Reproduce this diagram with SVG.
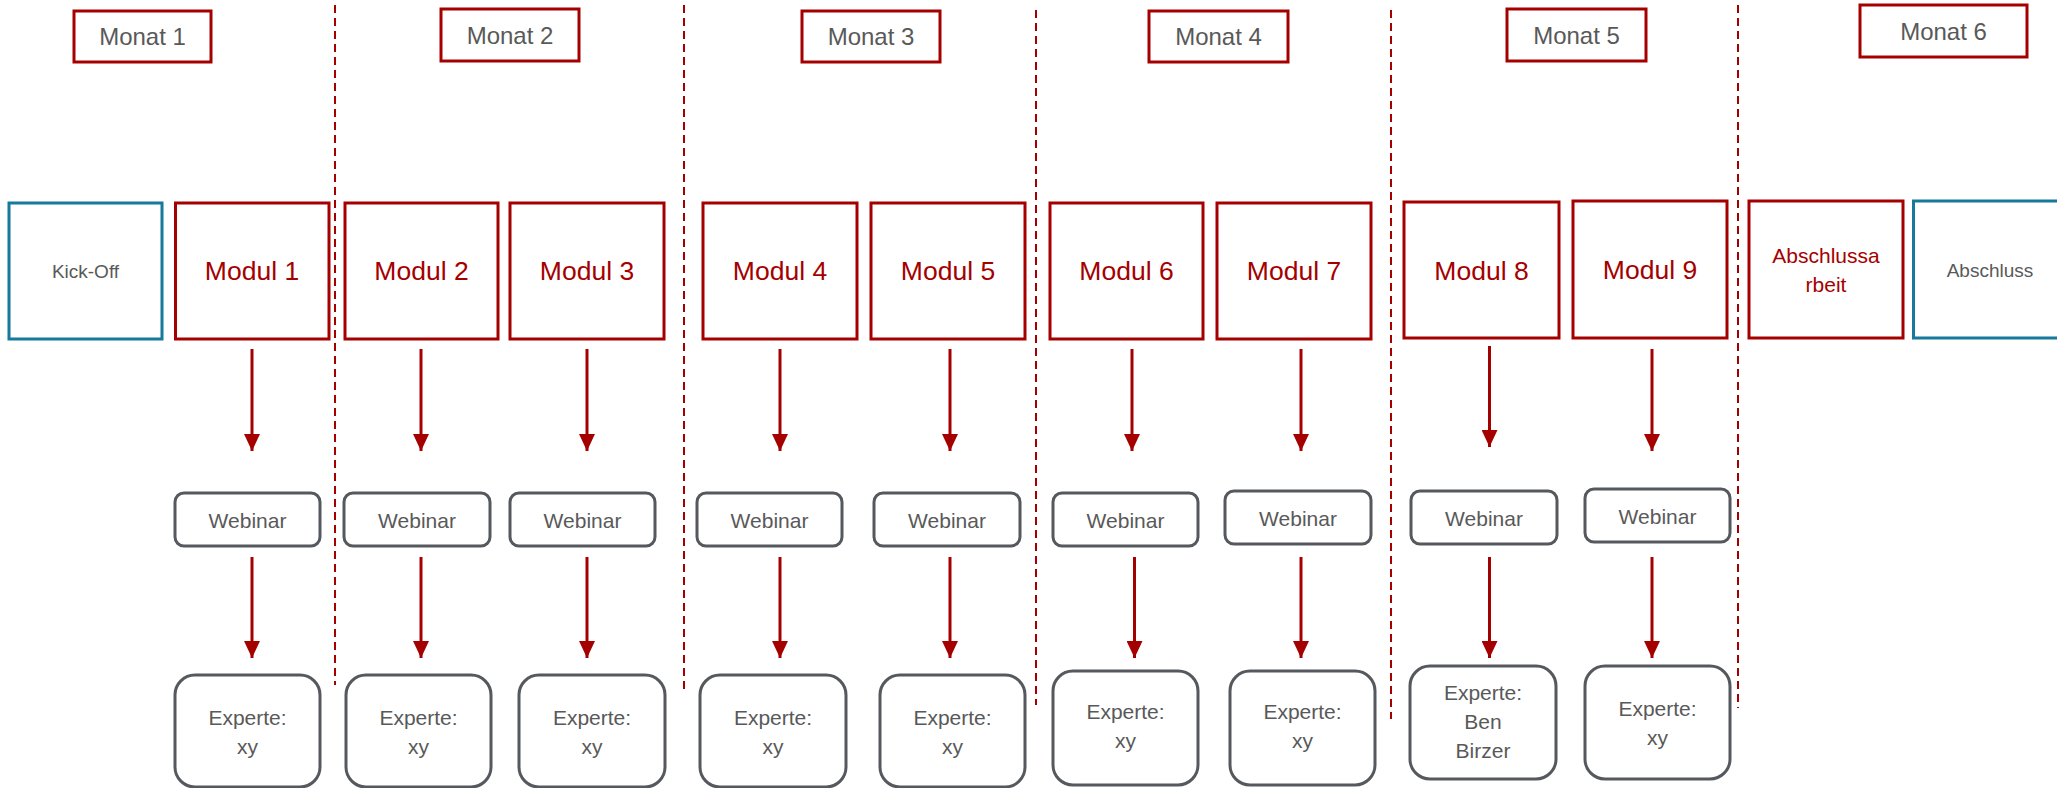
<svg xmlns="http://www.w3.org/2000/svg" width="2057" height="788" viewBox="0 0 2057 788">
<defs>
<style>
.bg{fill:#ffffff}
.month rect{fill:#fff;stroke:#a50000;stroke-width:3}
.month text{font-family:"Liberation Sans",Arial,sans-serif;font-size:24px;fill:#595959;text-anchor:middle}
.mod rect{fill:#fff;stroke:#a50000;stroke-width:3}
.mod text{font-family:"Liberation Sans",Arial,sans-serif;font-size:26.5px;fill:#a50000;text-anchor:middle}
.mod text.small{font-size:21px}
.teal rect{fill:#fff;stroke:#17799b;stroke-width:3}
.teal text{font-family:"Liberation Sans",Arial,sans-serif;font-size:19px;fill:#595959;text-anchor:middle}
.web rect{fill:#fff;stroke:#55595e;stroke-width:3}
.web text{font-family:"Liberation Sans",Arial,sans-serif;font-size:21px;fill:#595959;text-anchor:middle}
.exp rect{fill:#fff;stroke:#55595e;stroke-width:3}
.exp text{font-family:"Liberation Sans",Arial,sans-serif;font-size:21px;fill:#595959;text-anchor:middle}
.div line{stroke:#a50000;stroke-width:2;stroke-dasharray:8 5}
.arr line{stroke:#a50000;stroke-width:3}
</style>
<marker id="ah" markerUnits="userSpaceOnUse" markerWidth="17" markerHeight="16" viewBox="0 0 17 16" refX="17" refY="8" orient="auto">
<path d="M0,0 L17,8 L0,16 Z" fill="#a50000"/>
</marker>
</defs>
<rect class="bg" x="0" y="0" width="2057" height="788"/>

<g id="dividers" class="div">
<line x1="335" y1="5" x2="335" y2="685"/>
<line x1="684" y1="5" x2="684" y2="692"/>
<line x1="1036" y1="10" x2="1036" y2="705"/>
<line x1="1391" y1="10" x2="1391" y2="719"/>
<line x1="1738" y1="5" x2="1738" y2="708"/>
</g>

<g id="monat1" class="month"><rect x="74" y="11" width="137" height="51"/><text x="142.5" y="45">Monat 1</text></g>
<g id="monat2" class="month"><rect x="441" y="9" width="138" height="52"/><text x="510" y="44">Monat 2</text></g>
<g id="monat3" class="month"><rect x="802" y="11" width="138" height="51"/><text x="871" y="45">Monat 3</text></g>
<g id="monat4" class="month"><rect x="1149" y="11" width="139" height="51"/><text x="1218.5" y="45">Monat 4</text></g>
<g id="monat5" class="month"><rect x="1507" y="9" width="139" height="52"/><text x="1576.5" y="44">Monat 5</text></g>
<g id="monat6" class="month"><rect x="1860" y="5" width="167" height="52"/><text x="1943.5" y="40">Monat 6</text></g>

<g id="kickoff" class="teal"><rect x="9" y="203" width="153" height="136"/><text x="85.5" y="278">Kick-Off</text></g>
<g id="modul1" class="mod"><rect x="175.5" y="203" width="153.5" height="136"/><text x="252" y="280">Modul 1</text></g>
<g id="modul2" class="mod"><rect x="345" y="203" width="153" height="136"/><text x="421.5" y="280">Modul 2</text></g>
<g id="modul3" class="mod"><rect x="510" y="203" width="154" height="136"/><text x="587" y="280">Modul 3</text></g>
<g id="modul4" class="mod"><rect x="703" y="203" width="154" height="136"/><text x="780" y="280">Modul 4</text></g>
<g id="modul5" class="mod"><rect x="871" y="203" width="154" height="136"/><text x="948" y="280">Modul 5</text></g>
<g id="modul6" class="mod"><rect x="1050" y="203" width="153" height="136"/><text x="1126.5" y="280">Modul 6</text></g>
<g id="modul7" class="mod"><rect x="1217" y="203" width="154" height="136"/><text x="1294" y="280">Modul 7</text></g>
<g id="modul8" class="mod"><rect x="1404" y="202" width="155" height="136"/><text x="1481.5" y="280">Modul 8</text></g>
<g id="modul9" class="mod"><rect x="1573" y="201" width="154" height="137"/><text x="1650" y="279">Modul 9</text></g>
<g id="abschlussarbeit" class="mod"><rect x="1749" y="201" width="154" height="137"/><text class="small" x="1826" y="263">Abschlussa</text><text class="small" x="1826" y="292">rbeit</text></g>
<g id="abschluss" class="teal"><rect x="1913.5" y="201" width="154" height="137"/><text x="1990" y="277">Abschluss</text></g>

<g id="webinar1" class="web"><rect x="175" y="493" width="145" height="53" rx="9"/><text x="247.5" y="528">Webinar</text></g>
<g id="webinar2" class="web"><rect x="344" y="493" width="146" height="53" rx="9"/><text x="417" y="528">Webinar</text></g>
<g id="webinar3" class="web"><rect x="510" y="493" width="145" height="53" rx="9"/><text x="582.5" y="528">Webinar</text></g>
<g id="webinar4" class="web"><rect x="697" y="493" width="145" height="53" rx="9"/><text x="769.5" y="528">Webinar</text></g>
<g id="webinar5" class="web"><rect x="874" y="493" width="146" height="53" rx="9"/><text x="947" y="528">Webinar</text></g>
<g id="webinar6" class="web"><rect x="1053" y="493" width="145" height="53" rx="9"/><text x="1125.5" y="528">Webinar</text></g>
<g id="webinar7" class="web"><rect x="1225" y="491" width="146" height="53" rx="9"/><text x="1298" y="526">Webinar</text></g>
<g id="webinar8" class="web"><rect x="1411" y="491" width="146" height="53" rx="9"/><text x="1484" y="526">Webinar</text></g>
<g id="webinar9" class="web"><rect x="1585" y="489" width="145" height="53" rx="9"/><text x="1657.5" y="524">Webinar</text></g>

<g id="experte1" class="exp"><rect x="175" y="675" width="145" height="112" rx="20"/><text x="247.5" y="725">Experte:</text><text x="247.5" y="754">xy</text></g>
<g id="experte2" class="exp"><rect x="346" y="675" width="145" height="112" rx="20"/><text x="418.5" y="725">Experte:</text><text x="418.5" y="754">xy</text></g>
<g id="experte3" class="exp"><rect x="519" y="675" width="146" height="112" rx="20"/><text x="592" y="725">Experte:</text><text x="592" y="754">xy</text></g>
<g id="experte4" class="exp"><rect x="700" y="675" width="146" height="112" rx="20"/><text x="773" y="725">Experte:</text><text x="773" y="754">xy</text></g>
<g id="experte5" class="exp"><rect x="880" y="675" width="145" height="112" rx="20"/><text x="952.5" y="725">Experte:</text><text x="952.5" y="754">xy</text></g>
<g id="experte6" class="exp"><rect x="1053" y="671" width="145" height="114" rx="20"/><text x="1125.5" y="719">Experte:</text><text x="1125.5" y="748">xy</text></g>
<g id="experte7" class="exp"><rect x="1230" y="671" width="145" height="114" rx="20"/><text x="1302.5" y="719">Experte:</text><text x="1302.5" y="748">xy</text></g>
<g id="experte8" class="exp"><rect x="1410" y="666" width="146" height="113" rx="20"/><text x="1483" y="700">Experte:</text><text x="1483" y="729">Ben</text><text x="1483" y="758">Birzer</text></g>
<g id="experte9" class="exp"><rect x="1585" y="666" width="145" height="113" rx="20"/><text x="1657.5" y="716">Experte:</text><text x="1657.5" y="745">xy</text></g>

<g id="connectors" class="arr">
<line x1="252" y1="349" x2="252" y2="451" marker-end="url(#ah)"/>
<line x1="421" y1="349" x2="421" y2="451" marker-end="url(#ah)"/>
<line x1="587" y1="349" x2="587" y2="451" marker-end="url(#ah)"/>
<line x1="780" y1="349" x2="780" y2="451" marker-end="url(#ah)"/>
<line x1="950" y1="349" x2="950" y2="451" marker-end="url(#ah)"/>
<line x1="1132" y1="349" x2="1132" y2="451" marker-end="url(#ah)"/>
<line x1="1301" y1="349" x2="1301" y2="451" marker-end="url(#ah)"/>
<line x1="1489.5" y1="346" x2="1489.5" y2="447" marker-end="url(#ah)"/>
<line x1="1652" y1="349" x2="1652" y2="451" marker-end="url(#ah)"/>
<line x1="252" y1="557" x2="252" y2="658" marker-end="url(#ah)"/>
<line x1="421" y1="557" x2="421" y2="658" marker-end="url(#ah)"/>
<line x1="587" y1="557" x2="587" y2="658" marker-end="url(#ah)"/>
<line x1="780" y1="557" x2="780" y2="658" marker-end="url(#ah)"/>
<line x1="950" y1="557" x2="950" y2="658" marker-end="url(#ah)"/>
<line x1="1134.5" y1="557" x2="1134.5" y2="658" marker-end="url(#ah)"/>
<line x1="1301" y1="557" x2="1301" y2="658" marker-end="url(#ah)"/>
<line x1="1489.5" y1="557" x2="1489.5" y2="658" marker-end="url(#ah)"/>
<line x1="1652" y1="557" x2="1652" y2="658" marker-end="url(#ah)"/>
</g>
</svg>
